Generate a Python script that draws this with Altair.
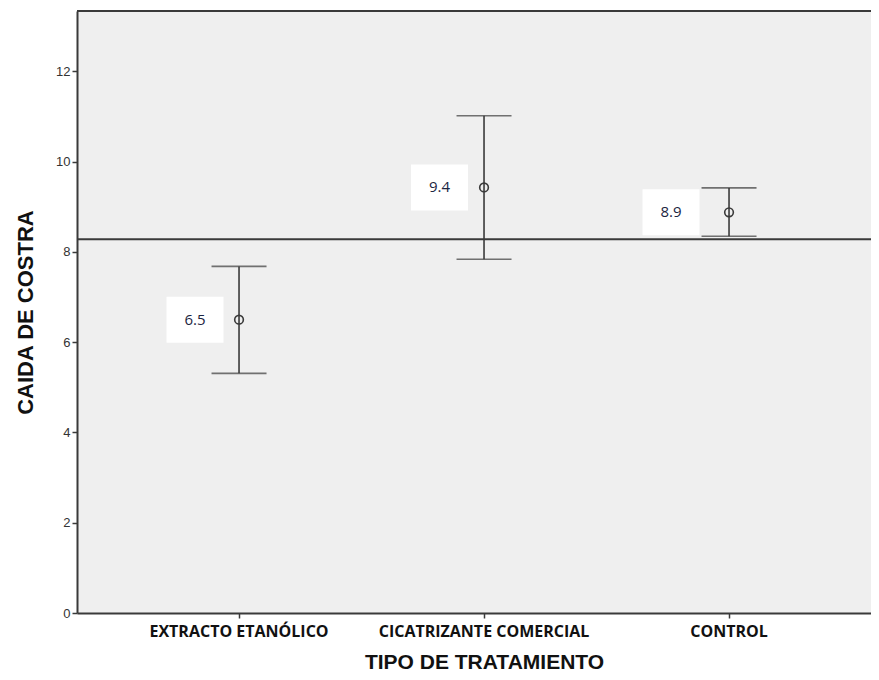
import altair as alt
import pandas as pd

categories = ["EXTRACTO ETANÓLICO", "CICATRIZANTE COMERCIAL", "CONTROL"]
means = [6.50, 9.43, 8.88]
lower = [5.31, 7.84, 8.35]
upper = [7.68, 11.02, 9.42]
labels = ["6.5", "9.4", "8.9"]
reference_value = 8.28

# label-box placement (style only, pixels relative to point)
label_dx = [-44, -44.5, -58]
label_dy = [-3, 0, -3]

df = pd.DataFrame({
    "cat": categories,
    "mean": means,
    "lo": lower,
    "hi": upper,
    "lab": labels,
    "dx": label_dx,
    "dy": label_dy,
})

W, H = 794, 602
YMAX = 13.34
DARK = "#3a3a3a"
PO = 0.1204
STEP = W / (3 + 2 * PO)

xscale = alt.Scale(type="band", domain=categories, paddingInner=0,
                   paddingOuter=PO, align=0.67)
yscale = alt.Scale(domain=[0, YMAX], nice=False, zero=True)

x_enc = alt.X("cat:N", scale=xscale, sort=categories,
              axis=alt.Axis(title="TIPO DE TRATAMIENTO", labelAngle=0,
                            labelFont="Open Sans", labelFontWeight="bold",
                            labelFontSize=16, labelColor="#111",
                            labelPadding=5, labelLimit=400,
                            titleFont="Liberation Sans", titleFontSize=21,
                            titleFontWeight="bold", titleColor="#111",
                            titlePadding=12, titleX=407, titleAlign="center",
                            domainColor=DARK, domainWidth=2,
                            tickColor=DARK, tickSize=5, tickWidth=1.5,
                            grid=False))
y_axis = alt.Axis(title="CAIDA DE COSTRA", values=[0, 2, 4, 6, 8, 10, 12],
                  labelFont="Liberation Sans", labelFontSize=13,
                  labelColor="#333", labelPadding=2,
                  titleFont="Liberation Sans", titleFontSize=22,
                  titleFontWeight="bold", titleColor="#111", titlePadding=18,
                  domainColor=DARK, domainWidth=2,
                  tickColor=DARK, tickSize=5, tickWidth=1.5, grid=False)

base = alt.Chart(df)
xs = alt.X("cat:N", scale=xscale, sort=categories)

bars = base.mark_rule(color=DARK, strokeWidth=1.6).encode(
    x=x_enc,
    y=alt.Y("lo:Q", scale=yscale, axis=y_axis),
    y2="hi:Q",
)
caps_hi = base.mark_tick(color=DARK, thickness=1.6, size=55).encode(
    x=xs, y=alt.Y("hi:Q", scale=yscale))
caps_lo = base.mark_tick(color=DARK, thickness=1.6, size=55).encode(
    x=xs, y=alt.Y("lo:Q", scale=yscale))
pts = base.mark_point(shape="circle", filled=False, color=DARK,
                      strokeWidth=1.6, size=75, opacity=1).encode(
    x=xs, y=alt.Y("mean:Q", scale=yscale))

ref = alt.Chart(pd.DataFrame({"r": [reference_value]})).mark_rule(
    color=DARK, strokeWidth=2).encode(y=alt.Y("r:Q", scale=yscale))

top_border = alt.Chart(pd.DataFrame({"t": [YMAX]})).mark_rule(
    color=DARK, strokeWidth=2).encode(y=alt.Y("t:Q", scale=yscale))

# offsets are measured from the band start, so shift by half a band
xoff_scale = alt.Scale(domain=[-100, 100], range=[-100 + STEP / 2, 100 + STEP / 2])
yoff_scale = alt.Scale(domain=[-100, 100], range=[-100, 100])
boxes = base.mark_rect(color="white", width=57, height=46).encode(
    x=xs,
    y=alt.Y("mean:Q", scale=yscale),
    xOffset=alt.XOffset("dx:Q", scale=xoff_scale),
    yOffset=alt.YOffset("dy:Q", scale=yoff_scale),
)
texts = base.mark_text(font="Open Sans", fontSize=15, color="#1c2541",
                       align="center", baseline="middle").encode(
    x=xs,
    y=alt.Y("mean:Q", scale=yscale),
    xOffset=alt.XOffset("dx:Q", scale=xoff_scale),
    yOffset=alt.YOffset("dy:Q", scale=yoff_scale),
    text="lab:N",
)

chart = alt.layer(bars, caps_hi, caps_lo, ref, top_border, boxes, texts, pts).properties(
    width=W, height=H,
    autosize=alt.AutoSizeParams(type="none"),
    padding={"left": 69, "top": 3, "right": 0, "bottom": 58},
    background="white",
).configure_view(fill="#efefef", stroke=None)

chart.save("out.html", embed_options={"renderer": "svg", "actions": False})
